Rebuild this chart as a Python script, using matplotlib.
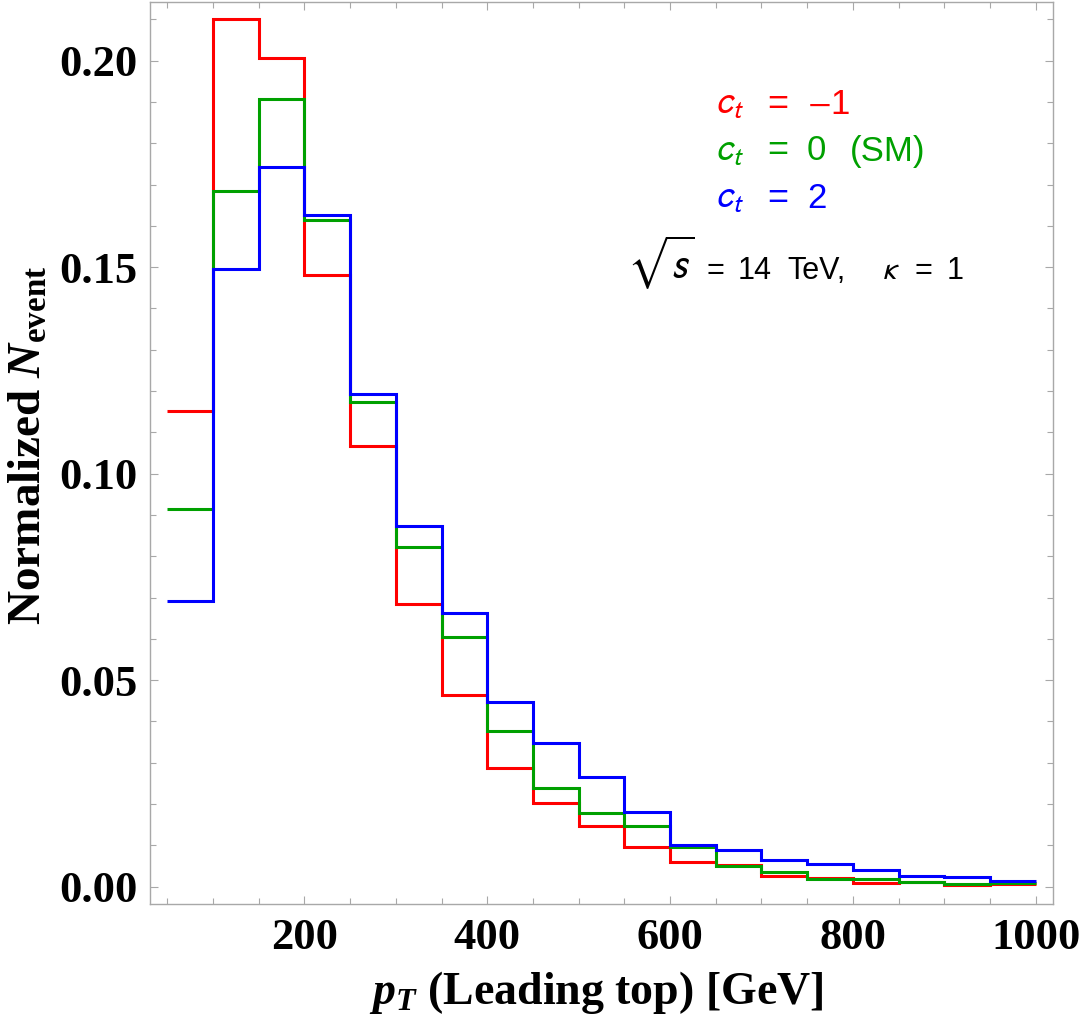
import numpy as np
import matplotlib
matplotlib.use("Agg")
import matplotlib.pyplot as plt
from matplotlib.ticker import MultipleLocator, FormatStrFormatter

# ----------------------------
# Data (normalized event counts per 50 GeV bin)
# ----------------------------
bin_edges = np.arange(50, 1001, 50)

ct_minus1 = [0.1152, 0.2100, 0.2006, 0.1481, 0.1066, 0.0685, 0.0464, 0.0287, 0.0202,
             0.0146, 0.0097, 0.0060, 0.0053, 0.0025, 0.0022, 0.0010, 0.0011, 0.0004, 0.0007]
ct_zero = [0.0915, 0.1684, 0.1907, 0.1613, 0.1174, 0.0822, 0.0605, 0.0377, 0.0240,
           0.0178, 0.0146, 0.0095, 0.0049, 0.0036, 0.0019, 0.0018, 0.0011, 0.0007, 0.0008]
ct_two = [0.0691, 0.1495, 0.1742, 0.1626, 0.1194, 0.0873, 0.0663, 0.0448, 0.0347,
          0.0266, 0.0180, 0.0100, 0.0089, 0.0064, 0.0055, 0.0040, 0.0026, 0.0023, 0.0014]

series_values = [r"$-$1", "0", "2"]
series_notes = ["", "(SM)", ""]
series_colors = ["#ff0000", "#00a000", "#0000ff"]

# ----------------------------
# Fonts
# ----------------------------
plt.rcParams["mathtext.fontset"] = "custom"
plt.rcParams["mathtext.rm"] = "Liberation Serif:bold"
plt.rcParams["mathtext.it"] = "Liberation Serif:italic:bold"
plt.rcParams["mathtext.bf"] = "Liberation Serif:bold"

W, H = 1084, 1024
fig = plt.figure(figsize=(W / 100, H / 100), dpi=100)
ax = fig.add_axes([150 / W, 1 - 904 / H, 903 / W, 902 / H])

for vals, col in zip([ct_minus1, ct_zero, ct_two], series_colors):
    ax.stairs(vals, bin_edges, baseline=None, color=col, lw=2.2)

ax.set_xlim(31, 1019)
ax.set_ylim(-0.0042, 0.2142)

# frame and ticks
frame_col = "#a8a8a8"
for sp in ax.spines.values():
    sp.set_color(frame_col)
    sp.set_linewidth(1.0)

ax.xaxis.set_major_locator(MultipleLocator(200))
ax.xaxis.set_minor_locator(MultipleLocator(50))
ax.yaxis.set_major_locator(MultipleLocator(0.05))
ax.yaxis.set_minor_locator(MultipleLocator(0.01))
ax.yaxis.set_major_formatter(FormatStrFormatter("%.2f"))

ax.tick_params(which="both", direction="in", top=True, right=True, color=frame_col, width=0.8)
ax.tick_params(which="major", length=6)
ax.tick_params(which="minor", length=4)
ax.tick_params(axis="x", which="major", pad=10)
ax.tick_params(axis="y", which="major", pad=9)

for lab in ax.get_xticklabels() + ax.get_yticklabels():
    lab.set_family("Liberation Serif")
    lab.set_fontweight("bold")
    lab.set_fontsize(32)

# axis labels
fig.text(596 / W, 1 - 992 / H, r"$p_T$ (Leading top) [GeV]", ha="center", va="center",
         family="Liberation Serif", fontweight="bold", fontsize=33)
fig.text(30 / W, 1 - 445 / H, r"Normalized $N_{\mathrm{event}}$", ha="center", va="center",
         rotation=90, family="Liberation Serif", fontweight="bold", fontsize=34)

# legend text, set in pieces to copy the wide spacing of the original
txt = dict(family="Liberation Sans", math_fontfamily="stixsans", ha="left", va="center")
for i, (val, note, col) in enumerate(zip(series_values, series_notes, series_colors)):
    y = 1 - (104 + 47 * i) / H
    fig.text(715 / W, y, r"$c_t$", color=col, fontsize=27, **txt)
    fig.text(767 / W, y, "=", color=col, fontsize=26, **txt)
    fig.text(807 / W, y, val, color=col, fontsize=25, **txt)
    if note:
        fig.text(850 / W, y, note, color=col, fontsize=25, **txt)

fig.text(627 / W, 1 - 263 / H, r"$\sqrt{s}$", fontsize=30, **txt)
for x, s in [(707, "="), (738, "14"), (787, "TeV,"), (882, r"$\kappa$"), (915, "="), (947, "1")]:
    fig.text(x / W, 1 - 271 / H, s, fontsize=22, **txt)

fig.savefig("out.png", dpi=100)
